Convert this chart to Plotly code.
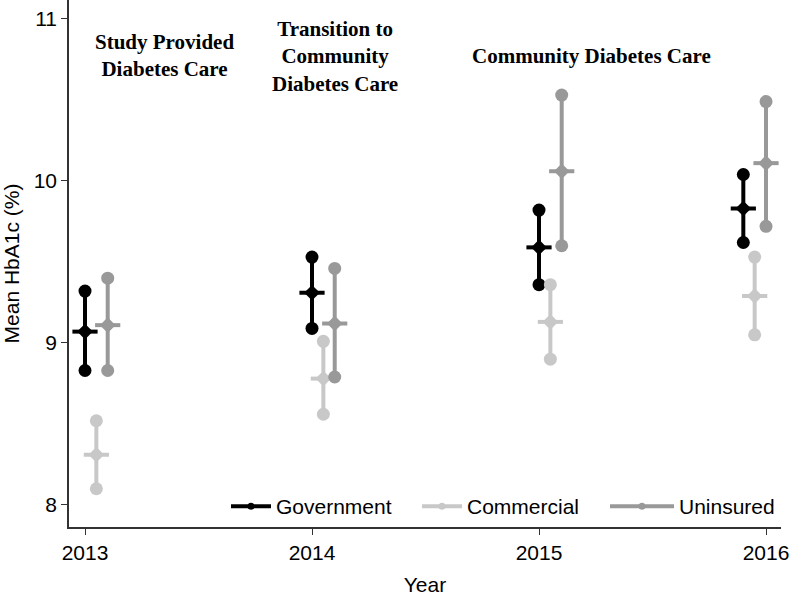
import plotly.graph_objects as go

years = [2013, 2014, 2015, 2016]
tick_labels = ["2013", "2014", "2015", "2016"]

series_names = ["Government", "Commercial", "Uninsured"]
# x positions (dodged)
gov_x = [2013.0, 2014.0, 2015.0, 2015.9]
com_x = [2013.05, 2014.05, 2015.05, 2015.95]
uni_x = [2013.1, 2014.1, 2015.1, 2016.0]

gov_mean = [9.07, 9.31, 9.59, 9.83]
gov_lo = [8.83, 9.09, 9.36, 9.62]
gov_hi = [9.32, 9.53, 9.82, 10.04]

com_mean = [8.31, 8.78, 9.13, 9.29]
com_lo = [8.10, 8.56, 8.90, 9.05]
com_hi = [8.52, 9.01, 9.36, 9.53]

uni_mean = [9.11, 9.12, 10.06, 10.11]
uni_lo = [8.83, 8.79, 9.60, 9.72]
uni_hi = [9.40, 9.46, 10.53, 10.49]

colors = ["#000000", "#C8C8C8", "#999999"]

phase_labels = ["<b>Study Provided<br>Diabetes Care</b>",
                "<b>Transition to<br>Community<br>Diabetes Care</b>",
                "<b>Community Diabetes Care</b>"]
phase_x = [2013.352, 2014.101, 2015.233]
phase_y = [10.775, 10.77, 10.77]

legend_ids = ["legend", "legend2", "legend3"]
legend_x = [0.2205, 0.4888, 0.7528]
legend_itemwidth = [40, 40, 64]

fig = go.Figure()

data = [
    (gov_x, gov_mean, gov_lo, gov_hi),
    (com_x, com_mean, com_lo, com_hi),
    (uni_x, uni_mean, uni_lo, uni_hi),
]

for name, color, lid, (xs, ms, los, his) in zip(series_names, colors, legend_ids, data):
    seg_x, seg_y = [], []
    for x, lo, hi in zip(xs, los, his):
        seg_x += [x, x, None]
        seg_y += [lo, hi, None]
    fig.add_trace(go.Scatter(
        x=seg_x, y=seg_y, mode="lines+markers",
        line=dict(color=color, width=4),
        marker=dict(color=color, size=13, symbol="circle"),
        showlegend=False, hoverinfo="skip"))
    fig.add_trace(go.Scatter(
        x=xs, y=ms, mode="markers",
        marker=dict(symbol="line-ew", size=18, line=dict(color=color, width=4)),
        showlegend=False, hoverinfo="skip"))
    fig.add_trace(go.Scatter(
        x=xs, y=ms, mode="markers",
        marker=dict(symbol="diamond", size=12, color=color),
        showlegend=False))
    # legend entry
    fig.add_trace(go.Scatter(
        x=[None], y=[None], mode="lines+markers", name=name, legend=lid,
        line=dict(color=color, width=4),
        marker=dict(color=color, size=7)))

for txt, x, y in zip(phase_labels, phase_x, phase_y):
    fig.add_annotation(x=x, y=y, text=txt, showarrow=False,
                       xanchor="center", yanchor="middle",
                       font=dict(family="Liberation Serif", size=21, color="black"))

legend_layout = {}
for lid, lx, iw in zip(legend_ids, legend_x, legend_itemwidth):
    legend_layout[lid] = dict(orientation="h", x=lx, xanchor="left", y=0.0,
                              yanchor="bottom", bgcolor="rgba(0,0,0,0)",
                              font=dict(size=21), itemwidth=iw)

fig.update_layout(
    width=790, height=596,
    margin=dict(l=69, r=9, t=0, b=69),
    plot_bgcolor="white", paper_bgcolor="white",
    font=dict(family="Liberation Sans", size=21, color="black"),
    xaxis=dict(range=[2012.9295, 2016.066], tickvals=years, ticktext=tick_labels,
               showgrid=False, zeroline=False, showline=True, linecolor="#333333",
               linewidth=1.5, ticks="outside", ticklen=6, tickcolor="#333333",
               title=dict(text="Year", font=dict(size=21), standoff=14),
               tickfont=dict(size=21)),
    yaxis=dict(range=[7.864, 11.117], tickvals=[8, 9, 10, 11],
               showgrid=False, zeroline=False, showline=True, linecolor="#333333",
               linewidth=1.5, ticks="outside", ticklen=6, tickcolor="#333333",
               title=dict(text="Mean HbA1c (%)", font=dict(size=21), standoff=10),
               tickfont=dict(size=21)),
    **legend_layout,
)

fig.write_html("out.html", config={"displayModeBar": False},
               post_script="document.body.style.margin='0px';")
